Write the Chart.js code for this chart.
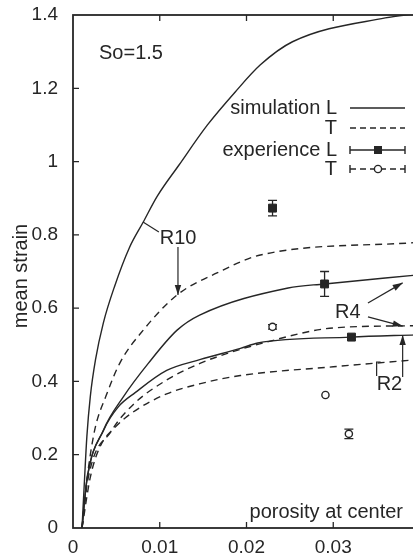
<!DOCTYPE html>
<html>
<head>
<meta charset="utf-8">
<title>mean strain vs porosity at center</title>
<script src="https://cdn.jsdelivr.net/npm/chart.js@4.4.1/dist/chart.umd.min.js"></script>
<style>
  html, body { margin: 0; padding: 0; background: #fff; overflow: hidden; }
  #wrap { width: 413px; height: 556px; overflow: hidden; }
  #wrap canvas { display: block; }
</style>
</head>
<body>
<div id="wrap"><canvas id="strainChart" width="430" height="556"></canvas></div>
<script>
// axis ticks
const xTicks = [0, 0.01, 0.02, 0.03];
const xTickLabels = ['0', '0.01', '0.02', '0.03'];
const yTicks = [0, 0.2, 0.4, 0.6, 0.8, 1.0, 1.2, 1.4];
const yTickLabels = ['0', '0.2', '0.4', '0.6', '0.8', '1', '1.2', '1.4'];

// simulation curves (porosity at center -> mean strain)
const r10L_x = [0.00104, 0.0013, 0.0016, 0.002, 0.0026, 0.0035, 0.0048, 0.0065, 0.0081, 0.0097, 0.0122, 0.0155, 0.0187, 0.0216, 0.0253, 0.036, 0.0395];
const r10L_y = [0, 0.12, 0.25, 0.36, 0.46, 0.56, 0.66, 0.765, 0.835, 0.905, 0.99, 1.1, 1.19, 1.264, 1.327, 1.392, 1.403];
const r10T_x = [0.00104, 0.0016, 0.0025, 0.0038, 0.0054, 0.0081, 0.012, 0.0166, 0.0216, 0.0395];
const r10T_y = [0, 0.131, 0.267, 0.36, 0.45, 0.54, 0.636, 0.696, 0.745, 0.779];
const r4L_x = [0.00104, 0.0016, 0.0035, 0.0058, 0.0087, 0.012, 0.0146, 0.0248, 0.029, 0.0395];
const r4L_y = [0, 0.131, 0.267, 0.358, 0.45, 0.54, 0.581, 0.655, 0.666, 0.69];
const r4T_x = [0.00104, 0.0017, 0.0045, 0.0069, 0.0108, 0.0147, 0.0166, 0.0224, 0.030, 0.0395];
const r4T_y = [0, 0.13, 0.267, 0.336, 0.404, 0.45, 0.467, 0.508, 0.546, 0.552];
const r2L_x = [0.00104, 0.0016, 0.0036, 0.0052, 0.0072, 0.0108, 0.0147, 0.0193, 0.0213, 0.032, 0.0395];
const r2L_y = [0, 0.13, 0.27, 0.33, 0.37, 0.43, 0.46, 0.49, 0.505, 0.521, 0.527];
const r2T_x = [0.00104, 0.002, 0.0031, 0.0049, 0.0069, 0.0108, 0.0147, 0.0193, 0.030, 0.0395];
const r2T_y = [0, 0.139, 0.221, 0.276, 0.316, 0.366, 0.394, 0.416, 0.44, 0.459];

// experiments
const expL_x = [0.0230, 0.0290, 0.0321];
const expL_y = [0.873, 0.666, 0.521];
const expL_err = [0.021, 0.034, 0];
const expT_x = [0.0230, 0.0291, 0.0318];
const expT_y = [0.549, 0.363, 0.257];
const expT_err = [0.006, 0, 0.013];

const legendNames = ['simulation L', 'T', 'experience L', 'T'];

const FONT = '"Liberation Sans", Arial, Helvetica, sans-serif';
const INK = '#262626';

function pts(xs, ys) {
    return xs.map((v, i) => ({ x: v, y: ys[i] }));
}

function simLine(xs, ys, dashed) {
    return {
        data: pts(xs, ys),
        showLine: true,
        borderColor: INK,
        borderWidth: 1.4,
        borderDash: dashed ? [7, 5] : [],
        pointRadius: 0,
        cubicInterpolationMode: 'monotone',
        fill: false
    };
}

// no extra label padding, so the plot box sits where the figure has it
function noPad(s) {
    s.paddingTop = 0;
    s.paddingBottom = 0;
    s.paddingLeft = 0;
    s.paddingRight = 0;
}

function arrow(ctx, x1, y1, x2, y2) {
    const a = Math.atan2(y2 - y1, x2 - x1);
    ctx.beginPath();
    ctx.moveTo(x1, y1);
    ctx.lineTo(x2, y2);
    ctx.stroke();
    ctx.beginPath();
    ctx.moveTo(x2, y2);
    ctx.lineTo(x2 - 10 * Math.cos(a) + 3.2 * Math.sin(a), y2 - 10 * Math.sin(a) - 3.2 * Math.cos(a));
    ctx.lineTo(x2 - 10 * Math.cos(a) - 3.2 * Math.sin(a), y2 - 10 * Math.sin(a) + 3.2 * Math.cos(a));
    ctx.closePath();
    ctx.fill();
}

const decorations = {
    id: 'decorations',
    beforeDatasetsDraw(chart) {
        const { ctx, scales: { x, y } } = chart;
        ctx.save();
        ctx.strokeStyle = INK;
        ctx.lineWidth = 1.3;
        [[expL_x, expL_y, expL_err], [expT_x, expT_y, expT_err]].forEach(([xs, ys, es]) => {
            xs.forEach((v, i) => {
                if (!es[i]) return;
                const px = x.getPixelForValue(v);
                const top = y.getPixelForValue(ys[i] + es[i]);
                const bot = y.getPixelForValue(ys[i] - es[i]);
                ctx.beginPath();
                ctx.moveTo(px, top); ctx.lineTo(px, bot);
                ctx.moveTo(px - 4.5, top); ctx.lineTo(px + 4.5, top);
                ctx.moveTo(px - 4.5, bot); ctx.lineTo(px + 4.5, bot);
                ctx.stroke();
            });
        });
        ctx.restore();
    },
    afterDraw(chart) {
        const { ctx, chartArea: a, scales: { x, y } } = chart;
        ctx.save();
        ctx.strokeStyle = INK;
        ctx.fillStyle = INK;

        // frame + inward ticks
        ctx.lineWidth = 1.8;
        ctx.strokeRect(a.left, a.top, a.right - a.left, a.bottom - a.top);
        ctx.lineWidth = 1.3;
        ctx.beginPath();
        yTicks.slice(1, -1).forEach(v => {
            const py = y.getPixelForValue(v);
            ctx.moveTo(a.left, py); ctx.lineTo(a.left + 6, py);
        });
        xTicks.slice(1).forEach(v => {
            const px = x.getPixelForValue(v);
            ctx.moveTo(px, a.bottom); ctx.lineTo(px, a.bottom - 6);
            ctx.moveTo(px, a.top); ctx.lineTo(px, a.top + 6);
        });
        ctx.stroke();

        // y title
        ctx.font = '20px ' + FONT;
        ctx.textBaseline = 'middle';
        ctx.save();
        ctx.translate(21, 276);
        ctx.rotate(-Math.PI / 2);
        ctx.textAlign = 'center';
        ctx.fillText('mean strain', 0, 0);
        ctx.restore();

        // x title inside plot
        ctx.textAlign = 'right';
        ctx.fillText('porosity at center', 403, 512);

        // notes
        const X = v => x.getPixelForValue(v);
        const Y = v => y.getPixelForValue(v);
        ctx.textAlign = 'left';
        ctx.fillText('So=1.5', X(0.0030), Y(1.296));
        ctx.fillText('R10', X(0.0100), Y(0.791));
        ctx.fillText('R4', X(0.0302), Y(0.5895));
        ctx.fillText('R2', X(0.0350), Y(0.393));

        ctx.lineWidth = 1.2;
        ctx.beginPath();
        ctx.moveTo(X(0.00807), Y(0.835));
        ctx.lineTo(X(0.0099), Y(0.808));
        ctx.stroke();
        arrow(ctx, X(0.0121), Y(0.767), X(0.0121), Y(0.636));
        arrow(ctx, X(0.0340), Y(0.614), X(0.0380), Y(0.669));
        arrow(ctx, X(0.0340), Y(0.576), X(0.0380), Y(0.551));
        arrow(ctx, X(0.0380), Y(0.412), X(0.0380), Y(0.527));
        ctx.beginPath();
        ctx.moveTo(X(0.0350), Y(0.415));
        ctx.lineTo(X(0.0350), Y(0.453));
        ctx.lineTo(X(0.0350) + 4, Y(0.453));
        ctx.stroke();

        // legend
        const rows = [108, 128, 150, 169];
        const l0 = 350, l1 = 405, lm = 378;
        ctx.textAlign = 'right';
        legendNames.forEach((name, i) => ctx.fillText(name, 337, rows[i]));
        ctx.lineWidth = 1.4;
        rows.forEach((ry, i) => {
            ctx.setLineDash(i % 2 ? [6, 4] : []);
            ctx.beginPath();
            ctx.moveTo(l0, ry); ctx.lineTo(l1, ry);
            ctx.stroke();
            ctx.setLineDash([]);
            if (i >= 2) {
                ctx.beginPath();
                ctx.moveTo(l0, ry - 4); ctx.lineTo(l0, ry + 4);
                ctx.moveTo(l1, ry - 4); ctx.lineTo(l1, ry + 4);
                ctx.stroke();
            }
        });
        ctx.fillRect(lm - 4, rows[2] - 4, 8, 8);
        ctx.beginPath();
        ctx.arc(lm, rows[3], 3.6, 0, Math.PI * 2);
        ctx.fillStyle = '#fff';
        ctx.fill();
        ctx.stroke();
        ctx.restore();
    }
};

const ctx = document.getElementById('strainChart').getContext('2d');
new Chart(ctx, {
    type: 'scatter',
    data: {
        datasets: [
            simLine(r10L_x, r10L_y, false),
            simLine(r10T_x, r10T_y, true),
            simLine(r4L_x, r4L_y, false),
            simLine(r4T_x, r4T_y, true),
            simLine(r2L_x, r2L_y, false),
            simLine(r2T_x, r2T_y, true),
            {
                data: pts(expL_x, expL_y),
                pointStyle: 'rect',
                pointRadius: 5.6,
                backgroundColor: INK,
                borderColor: INK,
                borderWidth: 1
            },
            {
                data: pts(expT_x, expT_y),
                pointStyle: 'circle',
                pointRadius: 3.6,
                backgroundColor: '#fff',
                borderColor: INK,
                borderWidth: 1.4
            }
        ]
    },
    options: {
        responsive: false,
        animation: false,
        devicePixelRatio: 1,
        layout: { padding: { left: 0, top: 15, right: 10, bottom: 0 } },
        plugins: {
            legend: { display: false },
            tooltip: { enabled: false }
        },
        scales: {
            x: {
                type: 'linear',
                min: 0,
                max: 0.04,
                afterBuildTicks: s => { s.ticks = xTicks.map(v => ({ value: v })); },
                afterFit: s => { s.height = 28; noPad(s); },
                grid: { display: false, drawTicks: false },
                border: { display: false },
                ticks: {
                    padding: 8,
                    color: INK,
                    font: { family: FONT, size: 19 },
                    maxRotation: 0,
                    callback: (v, i) => xTickLabels[i]
                }
            },
            y: {
                min: 0,
                max: 1.4,
                afterBuildTicks: s => { s.ticks = yTicks.map(v => ({ value: v })); },
                afterFit: s => { s.width = 73; noPad(s); },
                grid: { display: false, drawTicks: false },
                border: { display: false },
                ticks: {
                    padding: 15,
                    color: INK,
                    font: { family: FONT, size: 19 },
                    callback: (v, i) => yTickLabels[i]
                }
            }
        }
    },
    plugins: [decorations]
});
</script>
</body>
</html>
